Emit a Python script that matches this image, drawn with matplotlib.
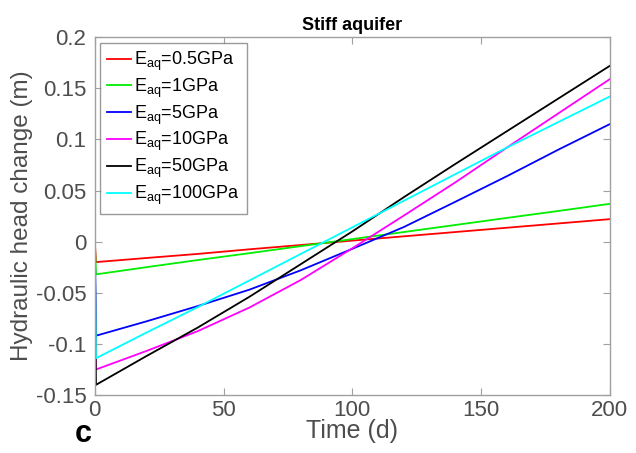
import matplotlib
matplotlib.use("Agg")
import matplotlib.pyplot as plt

plt.rcParams['font.family'] = ['Liberation Sans', 'DejaVu Sans']
plt.rcParams['mathtext.fontset'] = 'custom'
plt.rcParams['mathtext.rm'] = 'Liberation Sans'
plt.rcParams['mathtext.it'] = 'Liberation Sans'

# time axis (days); first point is the undisturbed state before the step
t = [0, 0.5, 20, 40, 60, 80, 100, 120, 140, 160, 180, 200]

h_05 = [0, -0.020, -0.016, -0.012, -0.0075, -0.0033, 0.001, 0.0052, 0.0094, 0.0136, 0.0178, 0.022]
h_1 = [0, -0.032, -0.025, -0.018, -0.0113, -0.0044, 0.0025, 0.0094, 0.0163, 0.0232, 0.030, 0.037]
h_5 = [0, -0.092, -0.078, -0.063, -0.047, -0.028, -0.007, 0.0143, 0.039, 0.064, 0.090, 0.115]
h_10 = [0, -0.125, -0.107, -0.0875, -0.0645, -0.0375, -0.0065, 0.0255, 0.058, 0.092, 0.1255, 0.159]
h_50 = [0, -0.140, -0.112, -0.084, -0.054, -0.022, 0.010, 0.0435, 0.076, 0.108, 0.140, 0.172]
h_100 = [0, -0.114, -0.089, -0.064, -0.038, -0.012, 0.014, 0.040, 0.066, 0.092, 0.117, 0.142]

labels = ['0.5GPa', '1GPa', '5GPa', '10GPa', '50GPa', '100GPa']
colors = ['#ff0000', '#00ee00', '#0000ff', '#ff00ff', '#000000', '#00ffff']
series = [h_05, h_1, h_5, h_10, h_50, h_100]

fig = plt.figure(figsize=(6.36, 4.53), dpi=100)
ax = fig.add_axes([0.149, 0.128, 0.81, 0.79])

for h, lab, c in zip(series, labels, colors):
    ax.plot(t, h, color=c, lw=1.3, label=r'E$_{\mathrm{aq}}$=' + lab)

ax.set_xlim(0, 200)
ax.set_ylim(-0.15, 0.2)
ax.set_xticks([0, 50, 100, 150, 200])
ax.set_yticks([-0.15, -0.1, -0.05, 0, 0.05, 0.1, 0.15, 0.2])
ax.set_yticklabels(['-0.15', '-0.1', '-0.05', '0', '0.05', '0.1', '0.15', '0.2'])

grey = '#4d4d4d'
for s in ax.spines.values():
    s.set_color('#a0a0a0')
    s.set_linewidth(1.0)
ax.tick_params(direction='in', top=True, right=True, length=5, width=0.8,
               color='#a0a0a0', labelcolor=grey, labelsize=16)
ax.tick_params(axis='y', pad=6)

ax.set_xlabel('Time (d)', fontsize=18, color=grey, labelpad=-1)
ax.set_ylabel('Hydraulic head change (m)', fontsize=17.5, color=grey)
ax.yaxis.set_label_coords(-0.12, 0.5)
ax.set_title('Stiff aquifer', fontsize=13, fontweight='bold', pad=5)

leg = ax.legend(loc='upper left', fontsize=13, handlelength=1.3, handletextpad=0.2,
                borderpad=0.4, labelspacing=0.2, fancybox=False,
                bbox_to_anchor=(0.0, 1.0), borderaxespad=0.3)
leg.get_frame().set_edgecolor('#808080')
leg.get_frame().set_linewidth(1.0)

fig.text(0.118, 0.025, 'c', fontsize=22, fontweight='bold')

fig.savefig('out.png', dpi=100)
